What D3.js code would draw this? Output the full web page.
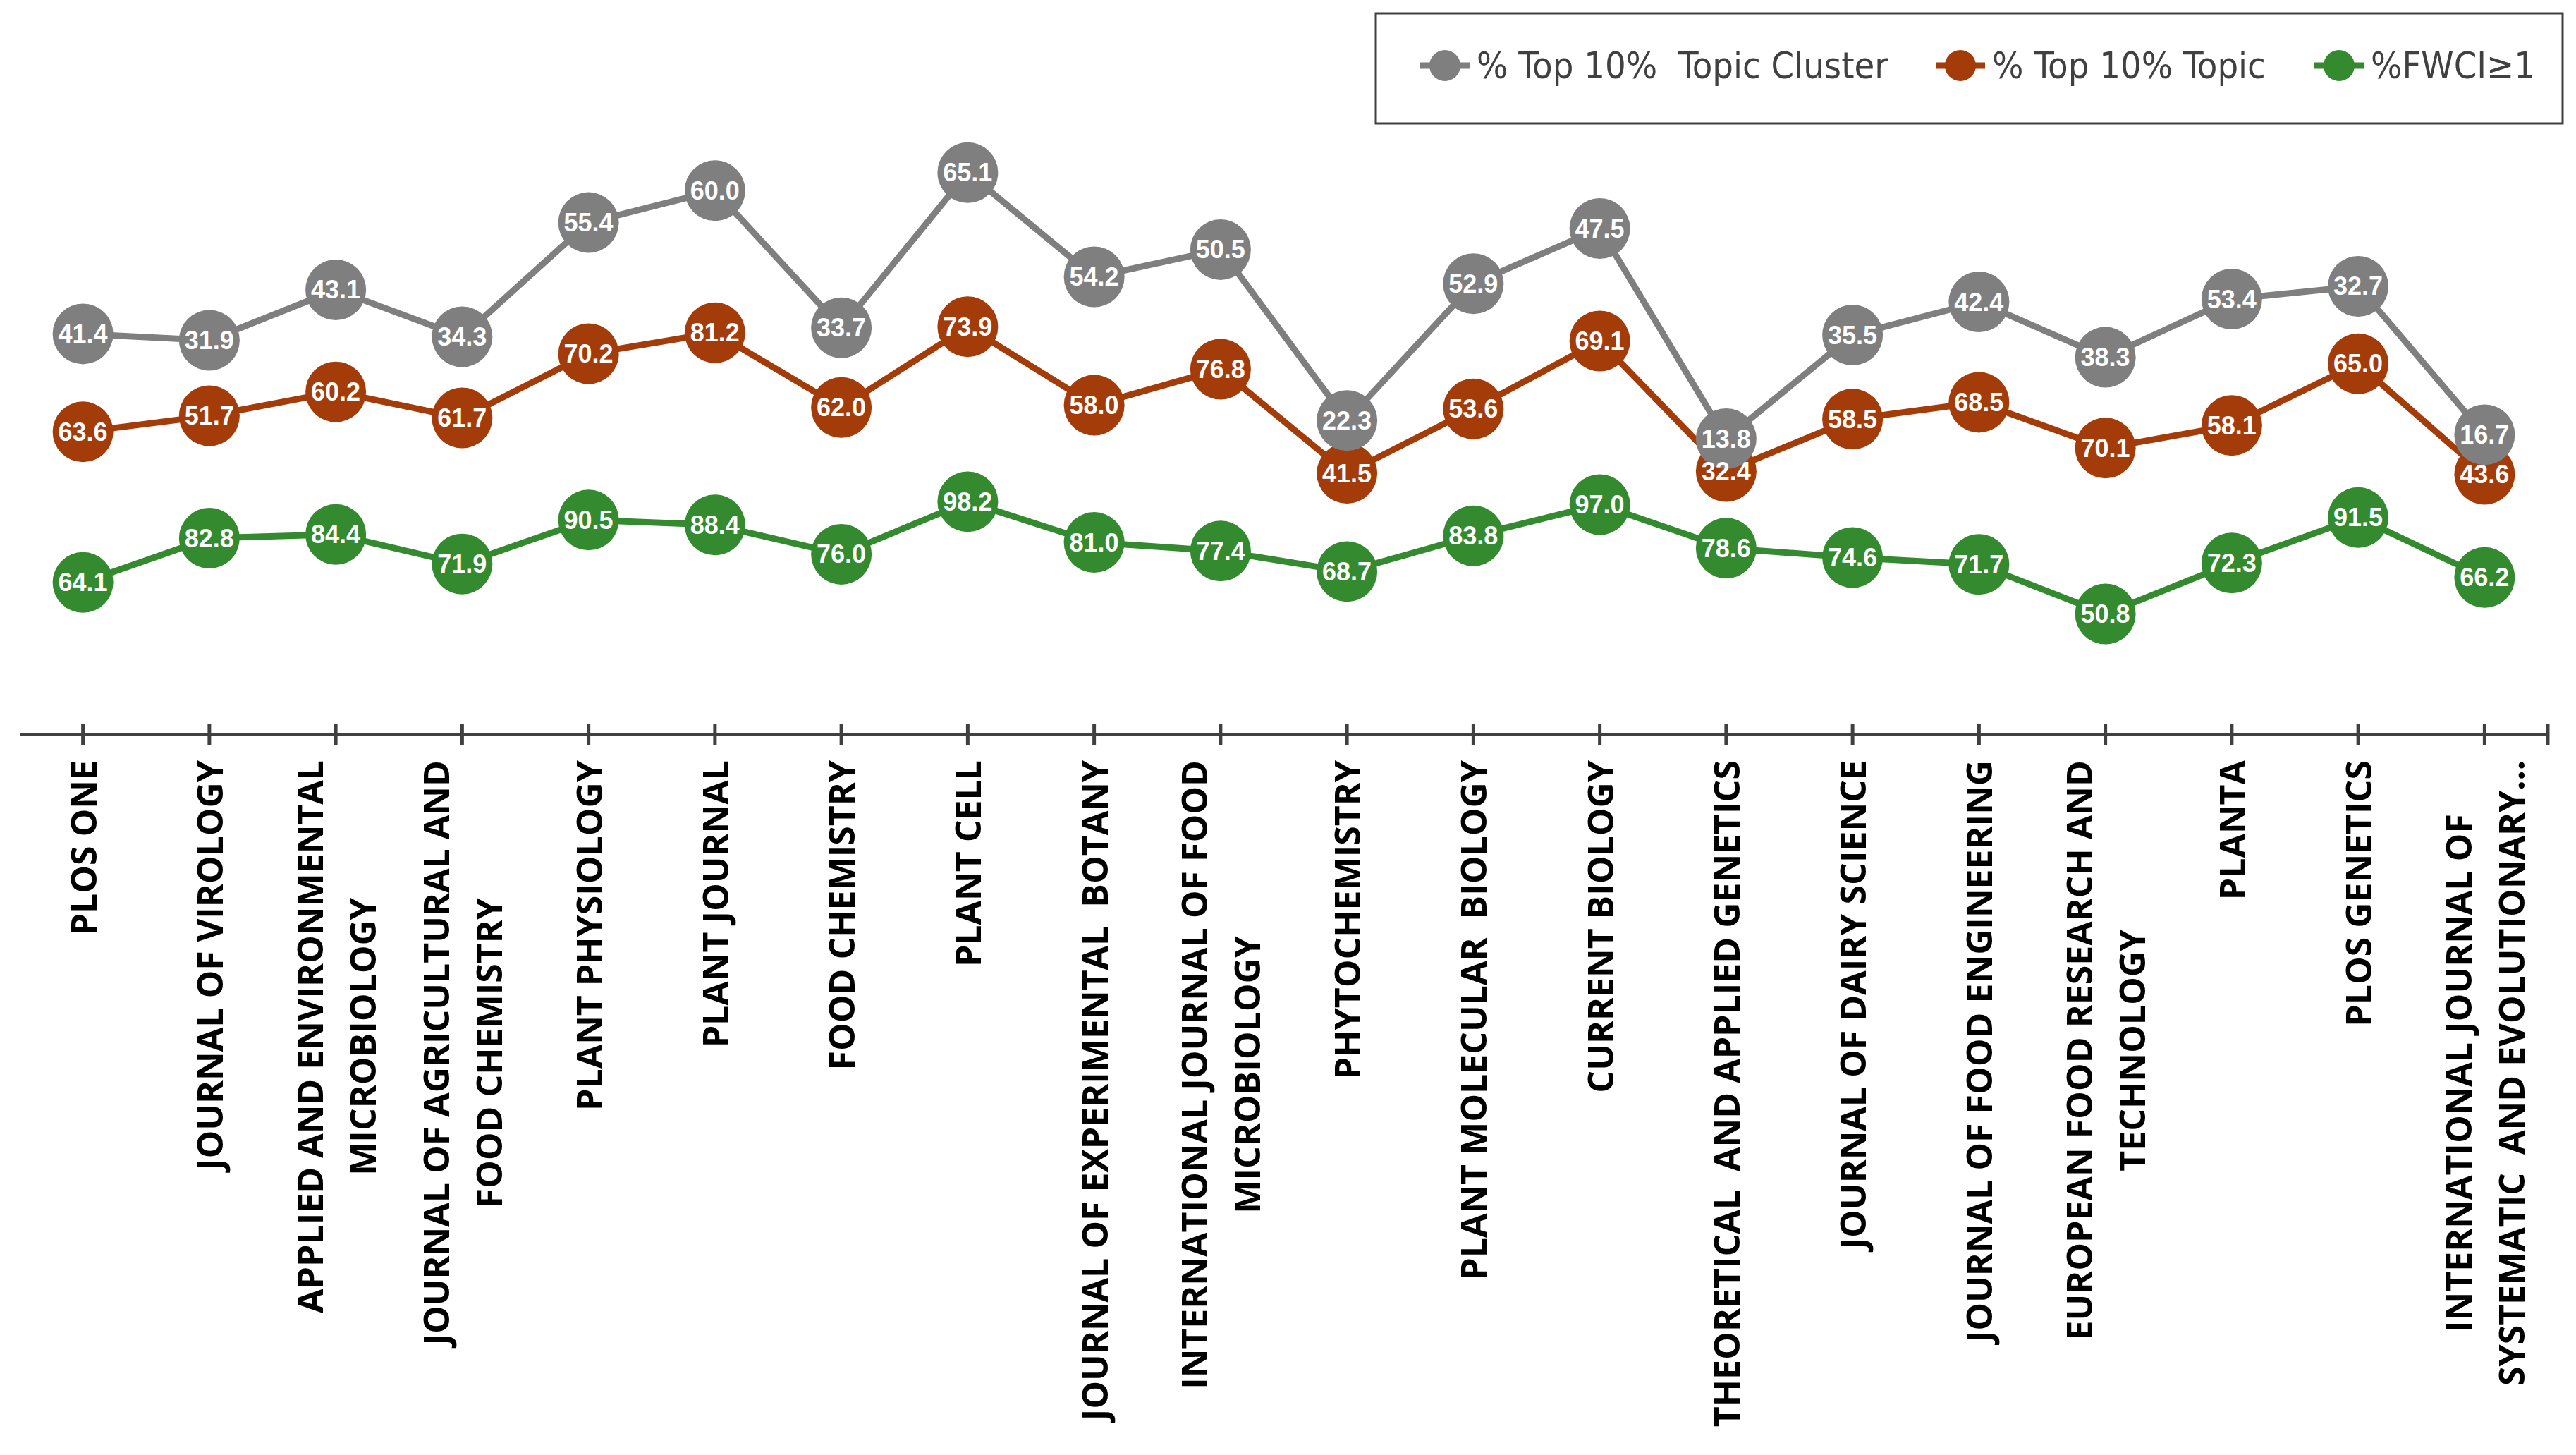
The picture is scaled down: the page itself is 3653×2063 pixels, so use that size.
<!DOCTYPE html>
<html>
<head>
<meta charset="utf-8">
<script src="https://cdn.jsdelivr.net/npm/d3@7/dist/d3.min.js"></script>
<style>
body { margin: 0; background: #fff; }
text { white-space: pre; }
</style>
</head>
<body>
<div id="chart"></div>
<script>
var journals = [
    "PLOS ONE",
    "JOURNAL OF VIROLOGY",
    "APPLIED AND ENVIRONMENTAL\nMICROBIOLOGY",
    "JOURNAL OF AGRICULTURAL AND\nFOOD CHEMISTRY",
    "PLANT PHYSIOLOGY",
    "PLANT JOURNAL",
    "FOOD CHEMISTRY",
    "PLANT CELL",
    "JOURNAL OF EXPERIMENTAL  BOTANY",
    "INTERNATIONAL JOURNAL OF FOOD\nMICROBIOLOGY",
    "PHYTOCHEMISTRY",
    "PLANT MOLECULAR  BIOLOGY",
    "CURRENT BIOLOGY",
    "THEORETICAL  AND APPLIED GENETICS",
    "JOURNAL OF DAIRY SCIENCE",
    "JOURNAL OF FOOD ENGINEERING",
    "EUROPEAN FOOD RESEARCH AND\nTECHNOLOGY",
    "PLANTA",
    "PLOS GENETICS",
    "INTERNATIONAL JOURNAL OF\nSYSTEMATIC  AND EVOLUTIONARY\u2026"
];

var fwci = [64.1, 82.8, 84.4, 71.9, 90.5, 88.4, 76.0, 98.2, 81.0, 77.4,
            68.7, 83.8, 97.0, 78.6, 74.6, 71.7, 50.8, 72.3, 91.5, 66.2];
var topTopic = [63.6, 51.7, 60.2, 61.7, 70.2, 81.2, 62.0, 73.9, 58.0, 76.8,
                41.5, 53.6, 69.1, 32.4, 58.5, 68.5, 70.1, 58.1, 65.0, 43.6];
var topCluster = [41.4, 31.9, 43.1, 34.3, 55.4, 60.0, 33.7, 65.1, 54.2, 50.5,
                  22.3, 52.9, 47.5, 13.8, 35.5, 42.4, 38.3, 53.4, 32.7, 16.7];

var seriesKeys = ["fwci", "topic", "cluster"];
var seriesNames = { cluster: "% Top 10%  Topic Cluster", topic: "% Top 10% Topic", fwci: "%FWCI\u22651" };
var seriesColors = { cluster: "#7f7f7f", topic: "#a33c08", fwci: "#348a2e" };
var legendOrder = ["cluster", "topic", "fwci"];

var svgWidth = 3653;
var svgHeight = 2063;

var svg = d3.select("#chart")
    .append("svg")
    .attr("width", svgWidth)
    .attr("height", svgHeight);

var rows = journals.map(function(j, i) {
    return { journal: j, fwci: fwci[i], topic: topTopic[i], cluster: topCluster[i] };
});

// excel stacked line chart: each series sits on top of the previous one
var stacked = d3.stack().keys(seriesKeys)(rows);

var x = d3.scaleBand()
    .domain(journals)
    .range([28, 3613]);

var y = d3.scaleLinear()
    .domain([0, 300])
    .range([1041, 34]);

var xc = function(d) { return x(d) + x.bandwidth() / 2; };

// axis
var axisG = svg.append("g")
    .attr("transform", "translate(0," + y(0) + ")")
    .call(d3.axisBottom(x).tickSizeOuter(0).tickSize(0).tickFormat(""));

axisG.select(".domain").attr("stroke", "#404040").attr("stroke-width", 5);
axisG.selectAll(".tick line")
    .attr("y1", -15).attr("y2", 15)
    .attr("stroke", "#404040").attr("stroke-width", 5);
axisG.append("line")
    .attr("x1", x.range()[1]).attr("x2", x.range()[1])
    .attr("y1", -15).attr("y2", 15)
    .attr("stroke", "#404040").attr("stroke-width", 5);

// category labels, rotated, multi-line centered
var labelTop = 1078;
var lineGap = 75;
var catG = svg.append("g");
journals.forEach(function(j) {
    var lines = j.split("\n");
    var g = catG.append("g")
        .attr("transform", "translate(" + xc(j) + "," + labelTop + ") rotate(-90)");
    var texts = lines.map(function(t, k) {
        return g.append("text")
            .attr("y", (k - (lines.length - 1) / 2) * lineGap)
            .attr("dominant-baseline", "central")
            .attr("text-anchor", "middle")
            .attr("font-family", "'Open Sans', 'DejaVu Sans', sans-serif")
            .attr("font-weight", 700)
            .attr("font-size", 50)
            .attr("fill", "#000")
            .text(t);
    });
    var maxLen = d3.max(texts, function(t) { return t.node().getComputedTextLength(); });
    texts.forEach(function(t) { t.attr("x", -maxLen / 2); });
});

// series lines and markers (green first, gray on top)
var line = d3.line()
    .x(function(d) { return xc(d.data.journal); })
    .y(function(d) { return y(d[1]); });

var r = 43;
stacked.forEach(function(s) {
    var col = seriesColors[s.key];
    svg.append("path")
        .datum(s)
        .attr("d", line)
        .attr("fill", "none")
        .attr("stroke", col)
        .attr("stroke-width", 9)
        .attr("stroke-linejoin", "round");
    svg.append("g").selectAll("circle")
        .data(s)
        .join("circle")
        .attr("cx", function(d) { return xc(d.data.journal); })
        .attr("cy", function(d) { return y(d[1]); })
        .attr("r", r)
        .attr("fill", col);
});

// data labels on top of everything
stacked.forEach(function(s) {
    svg.append("g").selectAll("text")
        .data(s)
        .join("text")
        .attr("x", function(d) { return xc(d.data.journal); })
        .attr("y", function(d) { return y(d[1]); })
        .attr("text-anchor", "middle")
        .attr("dominant-baseline", "central")
        .attr("font-family", "'Liberation Sans', Arial, sans-serif")
        .attr("font-weight", 700)
        .attr("font-size", 36)
        .attr("fill", "#fff")
        .text(function(d) { return d.data[s.key].toFixed(1); });
});

// legend
var legend = svg.append("g");
legend.append("rect")
    .attr("x", 1951).attr("y", 19)
    .attr("width", 1683).attr("height", 156)
    .attr("fill", "#fff")
    .attr("stroke", "#404040")
    .attr("stroke-width", 3);

var legendX = { cluster: 2014, topic: 2745, fwci: 3282 };
legendOrder.forEach(function(k) {
    var lx = legendX[k];
    var ly = 93;
    legend.append("line")
        .attr("x1", lx).attr("x2", lx + 70)
        .attr("y1", ly).attr("y2", ly)
        .attr("stroke", seriesColors[k]).attr("stroke-width", 9);
    legend.append("circle")
        .attr("cx", lx + 35).attr("cy", ly).attr("r", 22)
        .attr("fill", seriesColors[k]);
    legend.append("text")
        .attr("x", lx + 80).attr("y", ly)
        .attr("dominant-baseline", "central")
        .attr("font-family", "'Liberation Sans Narrow', 'DejaVu Sans Condensed', sans-serif")
        .attr("font-size", 52)
        .attr("fill", "#404040")
        .text(seriesNames[k]);
});
</script>
</body>
</html>
